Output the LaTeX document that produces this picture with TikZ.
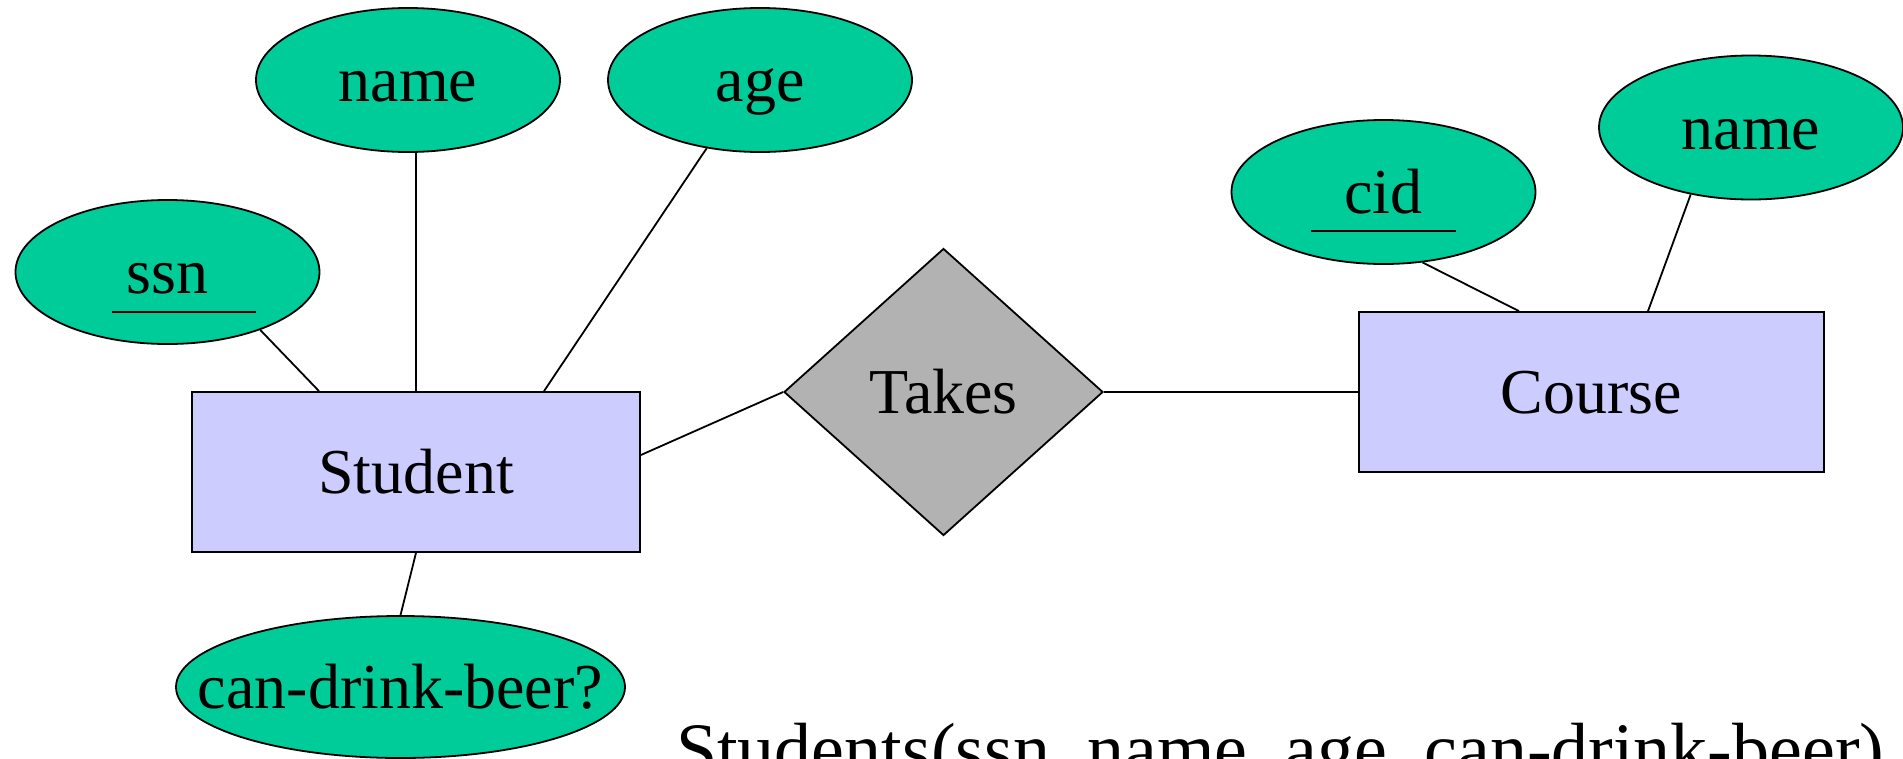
\documentclass[tikz,border=0pt]{standalone}
\usepackage{fontspec}
\setmainfont{Liberation Serif}
\usetikzlibrary{shapes.geometric,calc}
\definecolor{attrgreen}{RGB}{0,204,153}
\definecolor{entityblue}{RGB}{204,204,255}
\definecolor{relgray}{RGB}{178,178,178}
\newcommand{\zw}[1]{\makebox[0pt]{#1}}
\begin{document}
\begin{tikzpicture}[x=1pt,y=-1pt,
  lbl/.style={font=\fontsize{64}{77}\selectfont, text height=57pt, text depth=13.8pt, inner sep=0pt},
  attr/.style={lbl, ellipse, draw=black, line width=1.8pt, fill=attrgreen,
               minimum width=304pt, minimum height=144pt},
  entity/.style={lbl, rectangle, draw=black, line width=1.8pt, fill=entityblue},
  rel/.style={lbl, diamond, draw=black, line width=1.8pt, fill=relgray},
  link/.style={draw=black, line width=1.8pt},
  keyline/.style={draw=black, line width=2pt}]
\useasboundingbox (0,0) rectangle (1903,758);
\clip (0,0) rectangle (1903,758);

% entities
\node[entity, minimum width=448pt, minimum height=160pt] (student) at (416,472) {Student};
\node[entity, minimum width=465pt, minimum height=160pt] (course) at (1591.5,392) {Course};

% relationship
\node[rel, minimum width=319pt, minimum height=287pt] (takes) at (943.5,392) {\zw{Takes}};

% attributes of Student
\node[attr] (ssn) at (167.5,272) {\zw{ssn}};
\node[attr] (sname) at (408,80) {\zw{name}};
\node[attr] (age) at (760,80) {\zw{age}};
\node[attr, minimum width=449pt, minimum height=142pt] (beer) at (400.5,687) {\zw{can-drink-beer?}};

% attributes of Course
\node[attr] (cid) at (1383.5,192) {\zw{cid}};
\node[attr] (cname) at (1751,127.5) {\zw{name}};

% key underlines
\draw[keyline] ($(ssn.center)+(-55.5,40)$) -- ($(ssn.center)+(88.5,40)$);
\draw[keyline] ($(cid.center)+(-72.5,38.6)$) -- ($(cid.center)+(72.5,38.6)$);

% connectors
\draw[link] (ssn.-32.5) -- ([xshift=-97pt]student.north);
\draw[link] (student.north |- sname.south) -- (student.north);
\draw[link] (age.232) -- ([xshift=128pt]student.north);
\draw[link] (student.south) -- (beer.north);
\draw[link] ([yshift=17pt]student.east) -- (takes.west);
\draw[link] (takes.east) -- (course.west);
\draw[link] (cid.-61.5) -- ([xshift=-72.5pt]course.north);
\draw[link] (cname.228.6) -- ([xshift=56.5pt]course.north);

% relational schema
\node[anchor=base west, inner sep=0pt, font=\fontsize{74}{89}\selectfont] (schema) at (676,774)
  {Students(ssn, name, age, can-drink-beer)};
\end{tikzpicture}
\end{document}
